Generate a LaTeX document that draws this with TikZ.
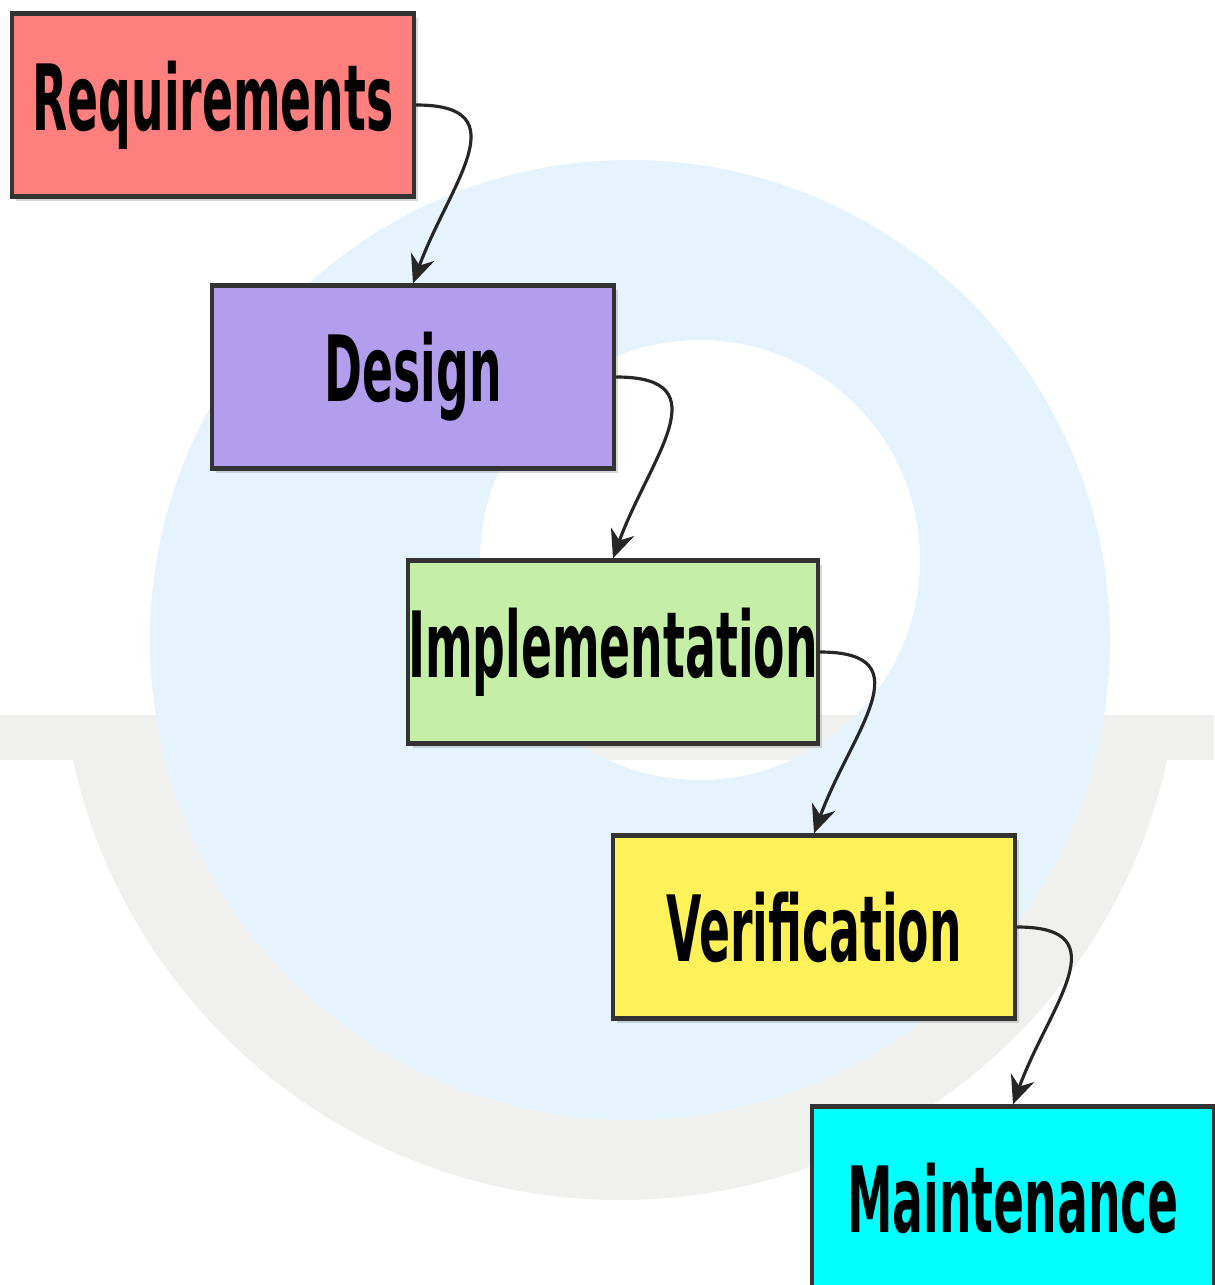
\documentclass[tikz,border=0pt]{standalone}
\usepackage{fontspec}
\newfontfamily\boxfont{DejaVu Sans}[FakeStretch=0.5]
\usetikzlibrary{calc}
\usetikzlibrary{arrows.meta}
\usetikzlibrary{shadows}

\definecolor{reqcol}{RGB}{255,127,127}
\definecolor{descol}{RGB}{178,158,236}
\definecolor{impcol}{RGB}{197,239,166}
\definecolor{vercol}{RGB}{255,241,89}
\definecolor{maincol}{RGB}{0,255,255}
\definecolor{markblue}{RGB}{229,244,252}
\definecolor{markgrey}{RGB}{240,240,238}

\tikzset{
  phase/.style={draw=black!80, line width=1.2pt, minimum width=4.02cm, minimum height=1.83cm,
    inner sep=0pt, font=\boxfont\bfseries\fontsize{26}{28}\selectfont,
    drop shadow={shadow xshift=1.2pt, shadow yshift=-1.2pt, opacity=.3}},
  flow/.style={black!85, line width=0.9pt, -{Stealth[length=8pt, width=7pt]}}
}

\begin{document}
\begin{tikzpicture}[x=0.01cm, y=-0.01cm]
\useasboundingbox (0,0) rectangle (1214,1285);
% faint watermark behind the boxes
\fill[markgrey] (0,715) rectangle (1214,760);
\fill[markgrey, even odd rule] (620,640) circle (560) (620,640) circle (470);
\fill[white] (0,0) rectangle (1214,715);
\fill[markblue, even odd rule] (630,640) circle (480) (700,560) circle (220);

\node[phase, fill=reqcol] (req) at (213,105) {Requirements};
\node[phase, fill=descol] (des) at (413,377) {Design};
\node[phase, fill=impcol] (imp) at (613,652) {Implementation};
\node[phase, fill=vercol] (ver) at (814,927) {Verification};
\node[phase, fill=maincol] (main) at (1013,1198) {Maintenance};

\draw[flow] (req.east) to [out=0, in=70, looseness=1.5] (des.north);
\draw[flow] (des.east) to [out=0, in=70, looseness=1.5] (imp.north);
\draw[flow] (imp.east) to [out=0, in=70, looseness=1.5] (ver.north);
\draw[flow] (ver.east) to [out=0, in=70, looseness=1.5] (main.north);

\end{tikzpicture}
\end{document}
